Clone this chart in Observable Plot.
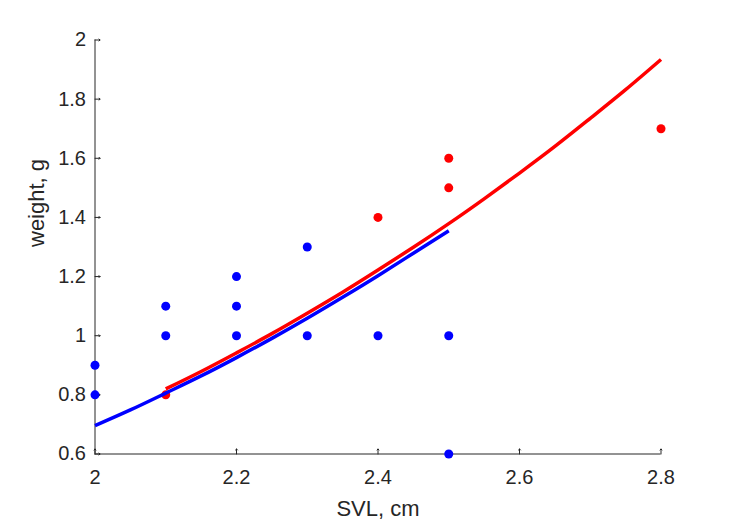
<!DOCTYPE html>
<html>
<head>
<meta charset="utf-8">
<script src="https://cdn.jsdelivr.net/npm/d3@7"></script>
<script src="https://cdn.jsdelivr.net/npm/@observablehq/plot@0.6"></script>
<style>
  html, body { margin: 0; padding: 0; background: #fff; }
  #chart svg { display: block; }
</style>
</head>
<body>
<div id="chart"></div>
<script>
// Observed points
const blueSVL    = [2.0, 2.0, 2.1, 2.1, 2.2, 2.2, 2.2, 2.3, 2.3, 2.4, 2.5, 2.5];
const blueWeight = [0.9, 0.8, 1.1, 1.0, 1.2, 1.1, 1.0, 1.3, 1.0, 1.0, 1.0, 0.6];
const redSVL     = [2.1, 2.4, 2.5, 2.5, 2.8];
const redWeight  = [0.8, 1.4, 1.6, 1.5, 1.7];

// Fitted curves
const blueCurveX = [2.00, 2.05, 2.10, 2.15, 2.20, 2.25, 2.30, 2.35, 2.40, 2.45, 2.50];
const blueCurveY = [0.696, 0.749, 0.806, 0.864, 0.926, 0.991, 1.059, 1.130, 1.203, 1.279, 1.355];
const redCurveX  = [2.10, 2.15, 2.20, 2.25, 2.30, 2.35, 2.40, 2.45, 2.50, 2.55, 2.60, 2.65, 2.70, 2.75, 2.80];
const redCurveY  = [0.820, 0.879, 0.942, 1.007, 1.076, 1.147, 1.222, 1.299, 1.379, 1.463, 1.550, 1.640, 1.735, 1.832, 1.934];

// Axes
const xTicks = [2, 2.2, 2.4, 2.6, 2.8];
const yTicks = [0.6, 0.8, 1, 1.2, 1.4, 1.6, 1.8, 2];
const xDomain = [2, 2.8];
const yDomain = [0.6, 2];
const xLabel = "SVL, cm";
const yLabel = "weight, g";

const toPts = (xs, ys) => xs.map((x, i) => ({x, y: ys[i]}));
const blueDots = toPts(blueSVL, blueWeight);
const redDots = toPts(redSVL, redWeight);
const blueCurve = toPts(blueCurveX, blueCurveY);
const redCurve = toPts(redCurveX, redCurveY);

const ink = "#262626";
const font = "'Liberation Sans', Arial, Helvetica, sans-serif";

const chart = Plot.plot({
  width: 729,
  height: 521,
  marginLeft: 94.5,
  marginRight: 68.5,
  marginTop: 39.5,
  marginBottom: 67.5,
  style: {fontFamily: font, background: "#fff", color: ink, overflow: "visible"},
  x: {domain: xDomain},
  y: {domain: yDomain},
  marks: [
    // axis lines
    Plot.ruleY([yDomain[0]], {x1: xDomain[0], x2: xDomain[1], stroke: ink, strokeWidth: 1}),
    Plot.ruleX([xDomain[0]], {y1: yDomain[0], y2: yDomain[1], stroke: ink, strokeWidth: 1}),
    // inward ticks
    Plot.vector(xTicks, {x: d => d, y: yDomain[0], length: 5, rotate: 0, anchor: "start", stroke: ink, strokeWidth: 1}),
    Plot.vector(yTicks, {x: xDomain[0], y: d => d, length: 5, rotate: 90, anchor: "start", stroke: ink, strokeWidth: 1}),
    // tick labels
    Plot.axisX(xTicks, {tickSize: 0, tickPadding: 16, fontSize: 20, fill: ink, tickFormat: d => String(d), label: null}),
    Plot.axisY(yTicks, {tickSize: 0, tickPadding: 9, fontSize: 20, fill: ink, tickFormat: d => String(d), label: null}),
    // axis titles
    Plot.text([xLabel], {frameAnchor: "bottom", dy: 54.5, text: d => d, fontSize: 22, fill: ink, lineAnchor: "middle"}),
    Plot.text([yLabel], {frameAnchor: "left", dx: -58, rotate: -90, text: d => d, fontSize: 22, fill: ink, lineAnchor: "middle"}),
    // data points
    Plot.dot(blueDots, {x: "x", y: "y", r: 4.5, fill: "#0000ff", stroke: null}),
    Plot.dot(redDots, {x: "x", y: "y", r: 4.5, fill: "#ff0000", stroke: null}),
    // fitted curves
    Plot.line(blueCurve, {x: "x", y: "y", stroke: "#0000ff", strokeWidth: 3.5, curve: "natural", strokeLinecap: "butt"}),
    Plot.line(redCurve, {x: "x", y: "y", stroke: "#ff0000", strokeWidth: 3.5, curve: "natural", strokeLinecap: "butt"})
  ]
});
document.getElementById("chart").appendChild(chart);
</script>
</body>
</html>
